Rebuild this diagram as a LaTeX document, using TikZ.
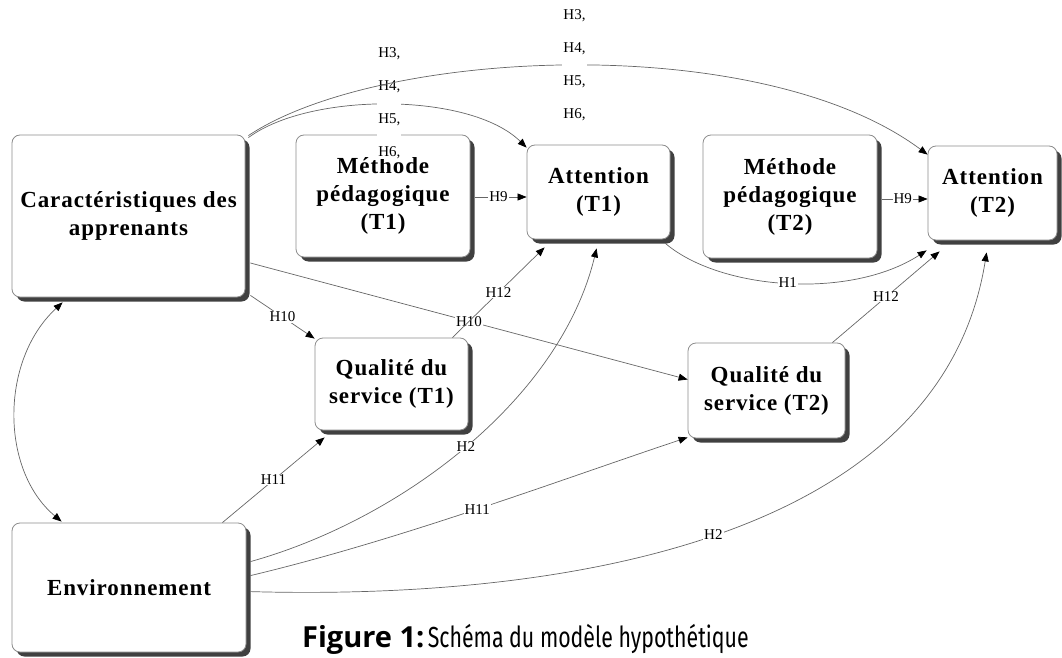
\documentclass[tikz,border=0pt]{standalone}
\usepackage{fontspec}
\setmainfont{Liberation Serif}
\newfontfamily\capfont{Fira Sans}[FakeStretch=0.735]
\newfontfamily\capbfont{Open Sans}
\usetikzlibrary{shadows,arrows.meta,calc}
\newcommand\boxfnt{\fontsize{23}{28}\selectfont\bfseries\addfontfeature{LetterSpace=4}}
\newcommand\lblfnt{\fontsize{15}{17}\selectfont}
\begin{document}
\begin{tikzpicture}[x=1pt,y=-1pt,
  box/.style={draw=black!45, line width=0.8pt, rounded corners=8pt, fill=white,
    align=center, font=\boxfnt, inner sep=0pt,
    drop shadow={shadow xshift=4.5pt, shadow yshift=-4.5pt, fill=black!75, opacity=1}},
  conn/.style={draw=black!60, line width=0.7pt, -{Triangle[length=9pt,width=7pt,color=black]}},
  lab/.style={font=\lblfnt, fill=white, inner xsep=1pt, inner ysep=0.5pt},
  stack/.style={font=\fontsize{15}{33}\selectfont, fill=white, align=center, inner xsep=1pt, inner ysep=0pt}]
\useasboundingbox (0,0) rectangle (1062,658);

% boxes
\node[box, minimum width=233pt, minimum height=162pt] (car) at (128.5,216) {Caractéristiques des\\apprenants};
\node[box, minimum width=174pt, minimum height=122pt] (meth1) at (383,196) {Méthode\\pédagogique\\(T1)};
\node[box, minimum width=143pt, minimum height=94pt] (att1) at (598.5,192) {Attention\\(T1)};
\node[box, minimum width=174pt, minimum height=123pt] (meth2) at (790,196.5) {Méthode\\pédagogique\\(T2)};
\node[box, minimum width=129pt, minimum height=94pt] (att2) at (992.5,193) {Attention\\(T2)};
\node[box, minimum width=153pt, minimum height=92pt] (qual1) at (391.5,384) {Qualité du\\service (T1)};
\node[box, minimum width=157pt, minimum height=95pt] (qual2) at (766.5,390.5) {Qualité du\\service (T2)};
\node[box, minimum width=234pt, minimum height=129pt] (env) at (129,587.5) {Environnement};

% Car -> Att1 (lower curve)
\draw[conn] ($(car.north east)+(3,3)$) .. controls (310,92) and (470,92) .. ($(att1.north west)+(0,3)$)
  node[stack, pos=0.5, yshift=1pt] (s1) {H3,\\H4,\\H5,\\H6,};
% Car -> Att2 (upper curve)
\draw[conn] ($(car.north east)+(3,1)$) .. controls (380,48) and (760,30) .. ($(att2.north west)+(0,9)$)
  node[stack, pos=0.5] (s2) {H3,\\H4,\\H5,\\H6,};

% H9
\draw[conn] ($(meth1.east)+(5,1)$) -- ($(att1.west)+(0,5)$) node[lab, pos=0.45] (h9a) {H9};
\draw[conn] ($(meth2.east)+(5,2.5)$) -- ($(att2.west)+(0,6)$) node[lab, pos=0.45] (h9b) {H9};

% H1
\draw[conn] ($(att1.south east)+(-5,4)$) .. controls (720,290) and (850,300) .. ($(att2.south west)+(-1,10)$)
  node[lab, pos=0.5] (h1) {H1};

% H10
\draw[conn] ($(car.south east)+(5,-2)$) -- ($(qual1.north west)+(0,1)$) node[lab, pos=0.5] (h10a) {H10};
\draw[conn] ($(car.east)+(5,47)$) -- ($(qual2.west)+(0,-11)$) node[lab, pos=0.5] (h10b) {H10};

% H12
\draw[conn] ($(qual1.north east)+(-16,0)$) -- ($(att1.south west)+(18,8)$) node[lab, pos=0.5] (h12a) {H12};
\draw[conn] ($(qual2.north east)+(-13,0)$) -- ($(att2.south west)+(12,11)$) node[lab, pos=0.5] (h12b) {H12};

% Car <-> Env
\draw[conn, {Triangle[length=9pt,width=7pt,color=black]}-{Triangle[length=9pt,width=7pt,color=black]}]
  ($(car.south west)+(51,5)$) .. controls (0,360) and (0,470) .. ($(env.north west)+(50,-1)$);

% H11
\draw[conn] ($(env.north east)+(-24,0)$) -- ($(qual1.south west)+(10,7)$) node[lab, pos=0.5] (h11a) {H11};
\draw[conn] ($(env.north east)+(4,53)$) .. controls (400,540) and (560,480) .. ($(qual2.south west)+(0,-1)$)
  node[lab, pos=0.5] (h11b) {H11};

% H2
\draw[conn] ($(env.north east)+(4,39)$) .. controls (400,520) and (560,400) .. ($(att1.south west)+(70,9)$)
  node[lab, pos=0.5] (h2a) {H2};
\draw[conn] ($(env.north east)+(4,69)$) .. controls (550,600) and (940,545) .. ($(att2.south west)+(59,12)$)
  node[lab, pos=0.5] (h2b) {H2};

% caption
\node[anchor=base west, inner sep=0pt] (cap) at (302,647)
  {{\capbfont\bfseries\fontsize{29}{32}\selectfont Figure 1:} {\capfont\fontsize{29}{32}\selectfont Schéma du modèle hypothétique}};
\end{tikzpicture}
\end{document}
